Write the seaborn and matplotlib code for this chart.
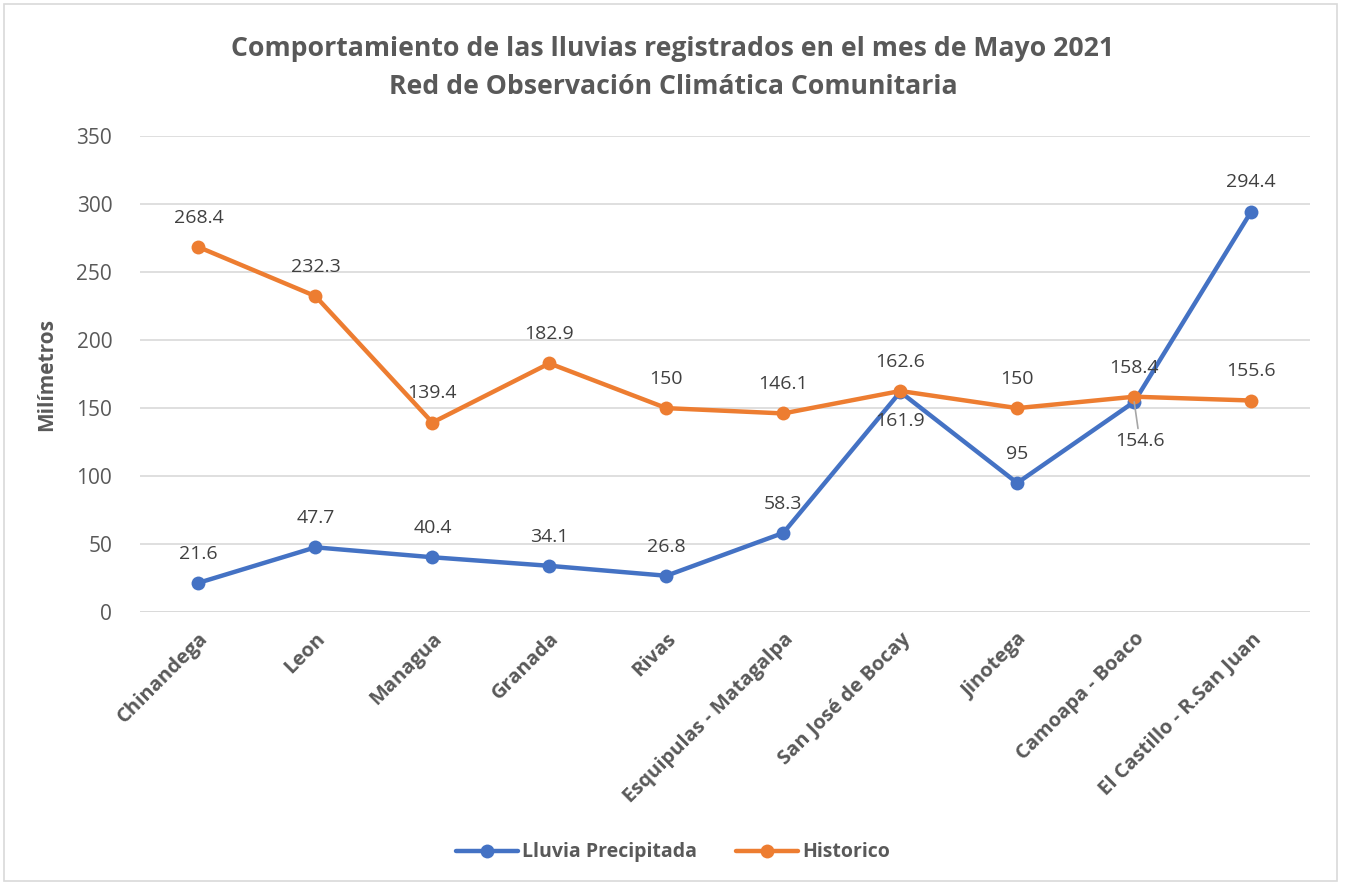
import pandas as pd
import matplotlib.pyplot as plt
import seaborn as sns
from matplotlib.patches import Rectangle

# Datos del gráfico
estaciones = ['Chinandega', 'Leon', 'Managua', 'Granada', 'Rivas',
              'Esquipulas - Matagalpa', 'San José de Bocay', 'Jinotega',
              'Camoapa - Boaco', 'El Castillo - R.San Juan']
lluvia = [21.6, 47.7, 40.4, 34.1, 26.8, 58.3, 161.9, 95, 154.6, 294.4]
historico = [268.4, 232.3, 139.4, 182.9, 150, 146.1, 162.6, 150, 158.4, 155.6]
lluvia_txt = ['21.6', '47.7', '40.4', '34.1', '26.8', '58.3', '161.9', '95', '154.6', '294.4']
hist_txt = ['268.4', '232.3', '139.4', '182.9', '150', '146.1', '162.6', '150', '158.4', '155.6']

AZUL = '#4472C4'
NARANJA = '#ED7D31'
GRIS = '#595959'

sns.set_theme(style='white')
plt.rcParams['font.family'] = ['Open Sans', 'DejaVu Sans']

df = pd.DataFrame({'pos': range(len(estaciones)), 'lluvia': lluvia, 'historico': historico})

fig = plt.figure(figsize=(13.46, 8.86), dpi=100)
ax = fig.add_axes([0.104, 0.309, 0.869, 0.5375])

# marco exterior
fig.patches.append(Rectangle((0.003, 0.006), 0.990, 0.989, transform=fig.transFigure,
                             fill=False, edgecolor='#d9d9d9', linewidth=1.2))

sns.lineplot(data=df, x='pos', y='lluvia', ax=ax, color=AZUL, linewidth=3.2,
             marker='o', markersize=10, markeredgewidth=0, label='Lluvia Precipitada', sort=False)
sns.lineplot(data=df, x='pos', y='historico', ax=ax, color=NARANJA, linewidth=3.2,
             marker='o', markersize=10, markeredgewidth=0, label='Historico', sort=False)

ax.set_xlim(-0.5, len(estaciones) - 0.5)
ax.set_ylim(0, 350)
ax.set_yticks(range(0, 351, 50))
ax.yaxis.grid(True, color='#d9d9d9', linewidth=1.2)
ax.set_axisbelow(True)
for s in ax.spines.values():
    s.set_visible(False)
ax.axhline(0, color='#d9d9d9', linewidth=1.2, zorder=0)

ax.set_xticks(range(len(estaciones)))
ax.set_xticklabels(estaciones, rotation=45, ha='right', rotation_mode='anchor',
                   fontsize=14.5, fontweight='bold', color=GRIS)
ax.tick_params(axis='x', length=0, pad=12)
ax.tick_params(axis='y', length=0, labelsize=15, labelcolor=GRIS, pad=20)
ax.set_xlabel('')
ax.set_ylabel('Milímetros', fontsize=15, fontweight='bold', color=GRIS, labelpad=14)

# etiquetas de datos
for i, (v, t) in enumerate(zip(historico, hist_txt)):
    ax.annotate(t, (i, v), xytext=(0, 21), textcoords='offset points',
                ha='center', va='center', fontsize=14, color='#404040')
for i, (v, t) in enumerate(zip(lluvia, lluvia_txt)):
    if estaciones[i] == 'San José de Bocay':
        ax.annotate(t, (i, v), xytext=(0, -21), textcoords='offset points',
                    ha='center', va='center', fontsize=14, color='#404040')
    elif estaciones[i] == 'Camoapa - Boaco':
        ax.annotate(t, (i, v), xytext=(4, -28), textcoords='offset points',
                    ha='center', va='center', fontsize=14, color='#404040',
                    arrowprops=dict(arrowstyle='-', color='#a6a6a6', lw=1.2,
                                    shrinkA=0, shrinkB=0))
    else:
        ax.annotate(t, (i, v), xytext=(0, 21), textcoords='offset points',
                    ha='center', va='center', fontsize=14, color='#404040')

fig.text(0.5, 0.945, 'Comportamiento de las lluvias registrados en el mes de Mayo 2021',
         ha='center', va='center', fontsize=19.2, fontweight='bold', color=GRIS)
fig.text(0.5, 0.902, 'Red de Observación Climática Comunitaria',
         ha='center', va='center', fontsize=19.2, fontweight='bold', color=GRIS)

leg = ax.legend(loc='center', bbox_to_anchor=(0.5, 0.038), bbox_transform=fig.transFigure,
                ncol=2, frameon=False, fontsize=14, handlelength=3.2, columnspacing=2.0,
                handletextpad=0.2)
for txt in leg.get_texts():
    txt.set_color(GRIS)
    txt.set_fontweight('bold')

fig.savefig('out.png', dpi=100)
